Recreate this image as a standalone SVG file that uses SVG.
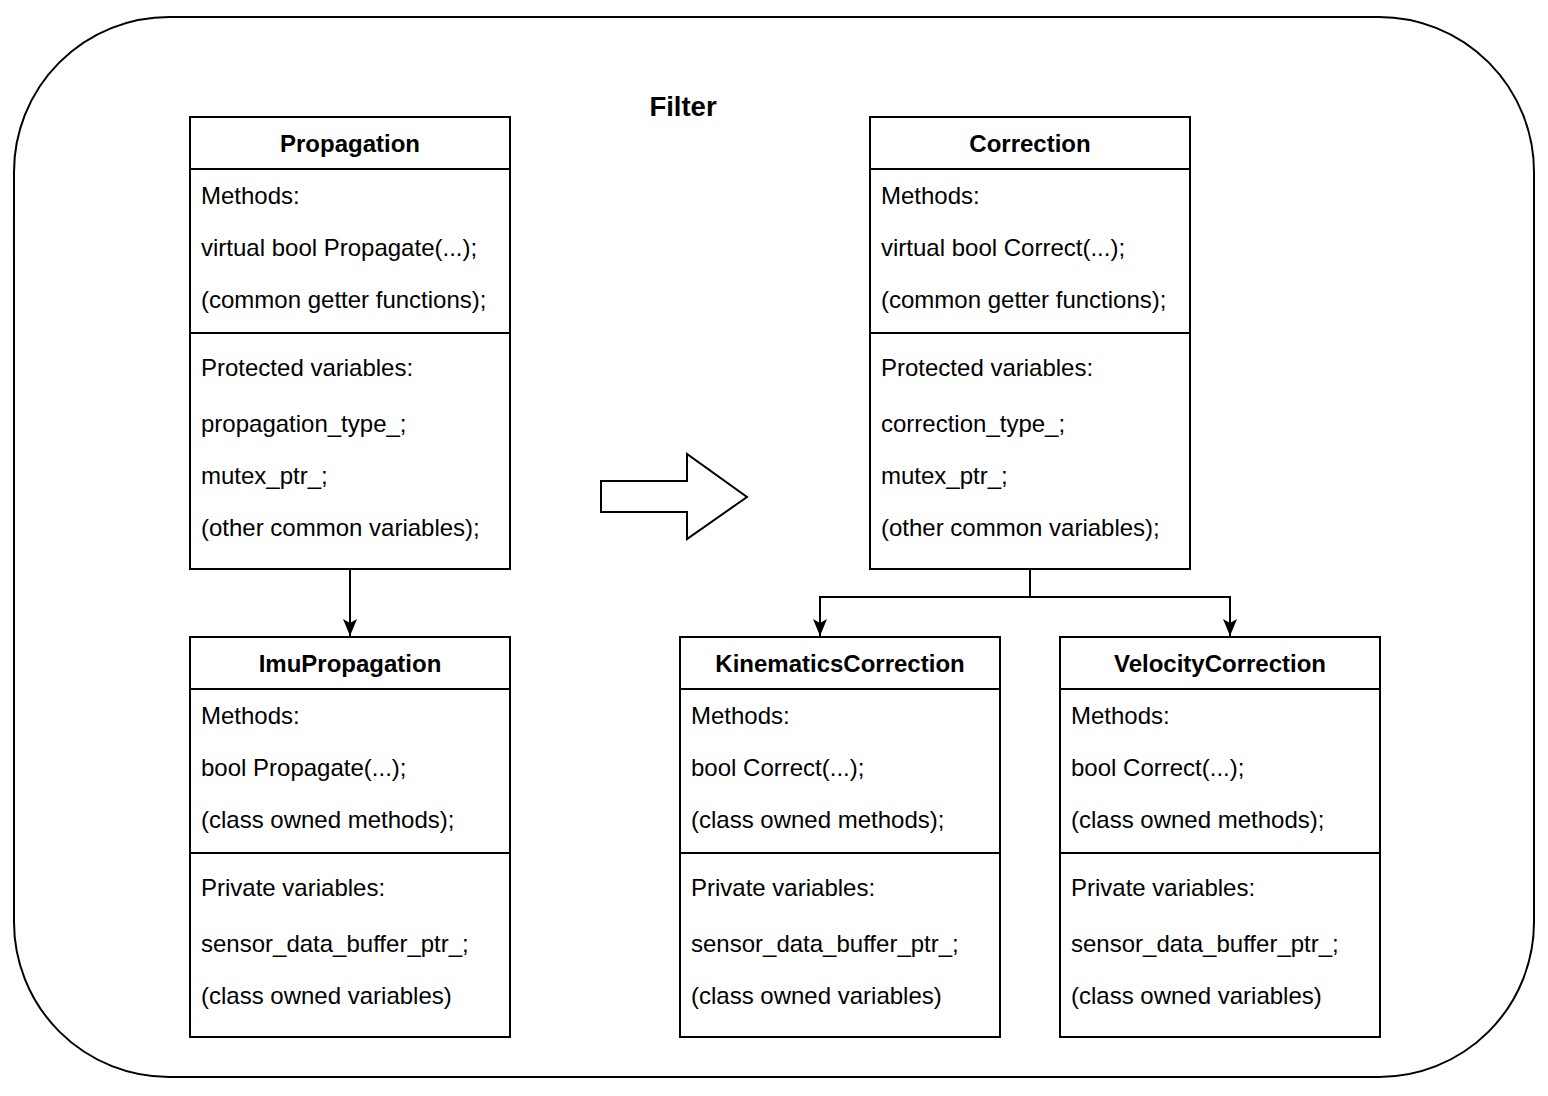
<svg xmlns="http://www.w3.org/2000/svg" width="1548" height="1096" viewBox="0 0 1548 1096">
<style>
.box{fill:#fff;stroke:#000;stroke-width:2}
.ln{fill:none;stroke:#000;stroke-width:2}
text{font-family:"Liberation Sans",Arial,sans-serif;font-size:24px;fill:#000}
.h{font-weight:bold;text-anchor:middle}
</style>
<defs>
<marker id="ah" markerWidth="18" markerHeight="16" refX="17" refY="7" orient="auto" markerUnits="userSpaceOnUse" viewBox="0 0 18 14">
<path d="M0,0 L17,7 L0,14 L4,7 Z" fill="#000"/>
</marker>
</defs>
<g id="filter">
<rect x="14" y="17" width="1520" height="1060" rx="155" ry="155" fill="#fff" stroke="#000" stroke-width="2"/>
<text x="683" y="116" class="h" style="font-size:27.5px">Filter</text>
</g>
<g id="arrow-shape">
<path d="M601,481 H687 V454 L747,497 L687,539 V512 H601 Z" class="box"/>
</g>
<g id="propagation">
<rect x="190" y="117" width="320" height="452" class="box"/>
<path d="M190,169 H510 M190,333 H510" class="ln"/>
<text x="350" y="152" class="h">Propagation</text>
<text x="201" y="204">Methods:</text>
<text x="201" y="256">virtual bool Propagate(...);</text>
<text x="201" y="308">(common getter functions);</text>
<text x="201" y="376">Protected variables:</text>
<text x="201" y="432">propagation_type_;</text>
<text x="201" y="484">mutex_ptr_;</text>
<text x="201" y="536">(other common variables);</text>
</g>
<g id="correction">
<rect x="870" y="117" width="320" height="452" class="box"/>
<path d="M870,169 H1190 M870,333 H1190" class="ln"/>
<text x="1030" y="152" class="h">Correction</text>
<text x="881" y="204">Methods:</text>
<text x="881" y="256">virtual bool Correct(...);</text>
<text x="881" y="308">(common getter functions);</text>
<text x="881" y="376">Protected variables:</text>
<text x="881" y="432">correction_type_;</text>
<text x="881" y="484">mutex_ptr_;</text>
<text x="881" y="536">(other common variables);</text>
</g>
<g id="imupropagation">
<rect x="190" y="637" width="320" height="400" class="box"/>
<path d="M190,689 H510 M190,853 H510" class="ln"/>
<text x="350" y="672" class="h">ImuPropagation</text>
<text x="201" y="724">Methods:</text>
<text x="201" y="776">bool Propagate(...);</text>
<text x="201" y="828">(class owned methods);</text>
<text x="201" y="896">Private variables:</text>
<text x="201" y="952">sensor_data_buffer_ptr_;</text>
<text x="201" y="1004">(class owned variables)</text>
</g>
<g id="kinematicscorrection">
<rect x="680" y="637" width="320" height="400" class="box"/>
<path d="M680,689 H1000 M680,853 H1000" class="ln"/>
<text x="840" y="672" class="h">KinematicsCorrection</text>
<text x="691" y="724">Methods:</text>
<text x="691" y="776">bool Correct(...);</text>
<text x="691" y="828">(class owned methods);</text>
<text x="691" y="896">Private variables:</text>
<text x="691" y="952">sensor_data_buffer_ptr_;</text>
<text x="691" y="1004">(class owned variables)</text>
</g>
<g id="velocitycorrection">
<rect x="1060" y="637" width="320" height="400" class="box"/>
<path d="M1060,689 H1380 M1060,853 H1380" class="ln"/>
<text x="1220" y="672" class="h">VelocityCorrection</text>
<text x="1071" y="724">Methods:</text>
<text x="1071" y="776">bool Correct(...);</text>
<text x="1071" y="828">(class owned methods);</text>
<text x="1071" y="896">Private variables:</text>
<text x="1071" y="952">sensor_data_buffer_ptr_;</text>
<text x="1071" y="1004">(class owned variables)</text>
</g>
<g id="connectors">
<path d="M350,569 V636" class="ln" marker-end="url(#ah)"/>
<path d="M1030,569 V597 H820 V636" class="ln" marker-end="url(#ah)"/>
<path d="M1030,597 H1230 V636" class="ln" marker-end="url(#ah)"/>
</g>
</svg>
